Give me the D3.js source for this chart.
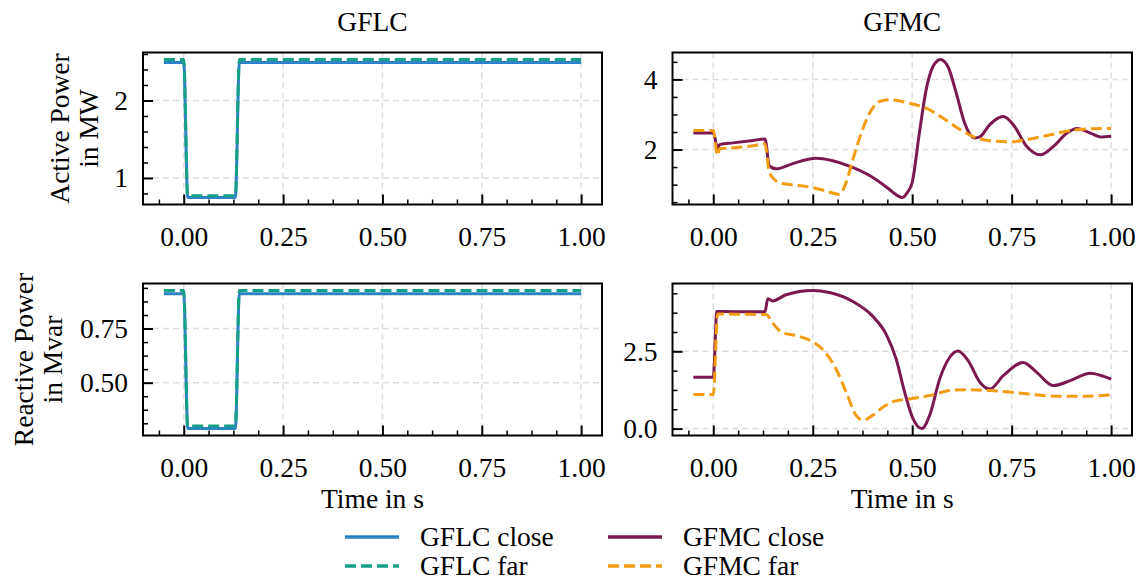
<!DOCTYPE html>
<html>
<head>
<meta charset="utf-8">
<script src="https://cdn.jsdelivr.net/npm/d3@7"></script>
<style>
  body { margin: 0; background: #fff; }
</style>
</head>
<body>
<div id="graph"></div>
<script>
// Time axis ticks (shared by all panels)
let timeTicks = [0, 0.25, 0.5, 0.75, 1.0];
let timeTickLabels = ["0.00", "0.25", "0.50", "0.75", "1.00"];

// GFLC (step response, same sampling for both series)
let gflcTime = [-0.05, 0, 0.01, 0.13, 0.14, 1.0];
let gflcActiveClose = [2.49, 2.49, 0.747, 0.747, 2.49, 2.49];
let gflcActiveFar = [2.53, 2.53, 0.77, 0.77, 2.53, 2.53];
let gflcReactiveClose = [0.911, 0.911, 0.288, 0.288, 0.911, 0.911];
let gflcReactiveFar = [0.926, 0.926, 0.300, 0.300, 0.926, 0.926];

// GFMC active power
let gfmcActiveCloseTime = [-0.05, 0, 0.011, 0.016, 0.05, 0.1, 0.13, 0.141, 0.158, 0.2, 0.258, 0.3, 0.342, 0.393, 0.443, 0.456, 0.475, 0.488, 0.5, 0.518, 0.535, 0.552, 0.571, 0.59, 0.611, 0.632, 0.657, 0.67, 0.695, 0.729, 0.754, 0.788, 0.822, 0.855, 0.889, 0.914, 0.948, 0.973, 1.0];
let gfmcActiveClose = [2.47, 2.47, 2.05, 2.14, 2.19, 2.26, 2.30, 1.53, 1.45, 1.60, 1.75, 1.68, 1.53, 1.26, 0.86, 0.74, 0.63, 0.78, 1.06, 2.47, 3.70, 4.36, 4.57, 4.36, 3.60, 2.75, 2.33, 2.36, 2.71, 2.94, 2.71, 2.09, 1.85, 2.09, 2.47, 2.60, 2.47, 2.36, 2.38];
let gfmcActiveFarTime = [-0.05, 0, 0.011, 0.016, 0.06, 0.1, 0.13, 0.141, 0.166, 0.2, 0.225, 0.267, 0.3, 0.317, 0.334, 0.351, 0.372, 0.393, 0.418, 0.443, 0.493, 0.535, 0.577, 0.62, 0.662, 0.695, 0.746, 0.796, 0.847, 0.897, 0.948, 1.0];
let gfmcActiveFar = [2.54, 2.54, 1.83, 2.02, 2.06, 2.11, 2.16, 1.34, 1.06, 0.99, 0.96, 0.87, 0.76, 0.72, 1.06, 1.72, 2.47, 3.04, 3.37, 3.42, 3.32, 3.18, 2.90, 2.57, 2.33, 2.25, 2.22, 2.30, 2.42, 2.54, 2.59, 2.60];

// GFMC reactive power
let gfmcReactiveCloseTime = [-0.05, 0, 0.009, 0.05, 0.13, 0.137, 0.149, 0.183, 0.25, 0.292, 0.351, 0.401, 0.435, 0.46, 0.481, 0.502, 0.524, 0.544, 0.569, 0.594, 0.615, 0.641, 0.67, 0.695, 0.729, 0.779, 0.813, 0.855, 0.897, 0.948, 0.981, 1.0];
let gfmcReactiveClose = [1.66, 1.66, 3.79, 3.78, 3.78, 4.20, 4.13, 4.33, 4.47, 4.40, 4.11, 3.63, 3.04, 2.24, 1.18, 0.32, 0.0, 0.43, 1.60, 2.30, 2.51, 2.19, 1.50, 1.28, 1.71, 2.14, 1.82, 1.39, 1.55, 1.79, 1.69, 1.60];
let gfmcReactiveFarTime = [-0.05, 0, 0.011, 0.05, 0.133, 0.149, 0.174, 0.208, 0.242, 0.275, 0.309, 0.334, 0.359, 0.376, 0.401, 0.426, 0.456, 0.493, 0.544, 0.594, 0.636, 0.695, 0.746, 0.805, 0.864, 0.931, 1.0];
let gfmcReactiveFar = [1.10, 1.10, 3.71, 3.70, 3.69, 3.42, 3.10, 3.01, 2.86, 2.56, 1.92, 1.18, 0.43, 0.27, 0.43, 0.69, 0.89, 0.96, 1.07, 1.23, 1.26, 1.23, 1.18, 1.10, 1.05, 1.05, 1.09];

// Y ticks per panel
let activeLeftTicks = [1, 2];
let activeLeftLabels = ["1", "2"];
let reactiveLeftTicks = [0.5, 0.75];
let reactiveLeftLabels = ["0.50", "0.75"];
let activeRightTicks = [2, 4];
let activeRightLabels = ["2", "4"];
let reactiveRightTicks = [0, 2.5];
let reactiveRightLabels = ["0.0", "2.5"];

// Titles, labels, legend
let columnTitles = ["GFLC", "GFMC"];
let rowLabels = [["Active Power", "in MW"], ["Reactive Power", "in Mvar"]];
let xLabel = "Time in s";
let seriesNames = ["GFLC close", "GFLC far", "GFMC close", "GFMC far"];
let seriesColors = ["#2b83c5", "#16a085", "#7b1850", "#f39c12"];

// Layout
let width = 1142;
let height = 582;
let cols = [{ x: 143, w: 459 }, { x: 672.5, w: 459.5 }];
let rows = [{ y: 52.5, h: 152 }, { y: 283.5, h: 152 }];
let rowLabelX = [[69, 98], [33, 62]];
let font = "'Liberation Serif', 'Times New Roman', serif";
let fontSize = "27.5px";
let dashPattern = "11,5";

let svg = d3.select("#graph")
    .append("svg")
    .attr("width", width)
    .attr("height", height);

function styleText(sel) {
    return sel.style("font-family", font).style("font-size", fontSize).style("fill", "#000");
}

function pairs(xs, ys) {
    return xs.map((x, i) => [x, ys[i]]);
}

function padded(values) {
    let lo = d3.min(values), hi = d3.max(values);
    let pad = (hi - lo) * 0.05;
    return [lo - pad, hi + pad];
}

function minorRange(domain, step) {
    let out = [];
    let start = Math.ceil(domain[0] / step - 1e-9);
    let end = Math.floor(domain[1] / step + 1e-9);
    for (let i = start; i <= end; i++) out.push(+(i * step).toFixed(6));
    return out;
}

function drawPanel(col, row, series, yTicks, yLabels, yMinor) {
    let c = cols[col], r = rows[row];
    let g = svg.append("g").attr("transform", "translate(" + c.x + "," + r.y + ")");

    let allX = [].concat(...series.map(s => s.data.map(d => d[0])));
    let allY = [].concat(...series.map(s => s.data.map(d => d[1])));

    let xScale = d3.scaleLinear().domain(padded(allX)).range([0, c.w]);
    let yScale = d3.scaleLinear().domain(padded(allY)).range([r.h, 0]);

    // Grid
    g.append("g").selectAll("line").data(timeTicks).join("line")
        .attr("x1", d => xScale(d)).attr("x2", d => xScale(d))
        .attr("y1", 0).attr("y2", r.h)
        .attr("stroke", "#dedede").attr("stroke-width", 1.5).attr("stroke-dasharray", "6,4");
    g.append("g").selectAll("line").data(yTicks).join("line")
        .attr("y1", d => yScale(d)).attr("y2", d => yScale(d))
        .attr("x1", 0).attr("x2", c.w)
        .attr("stroke", "#dedede").attr("stroke-width", 1.5).attr("stroke-dasharray", "6,4");

    // Lines
    let line = d3.line()
        .x(d => xScale(d[0]))
        .y(d => yScale(d[1]))
        .curve(d3.curveMonotoneX);

    series.forEach(s => {
        g.append("path")
            .datum(s.data)
            .attr("fill", "none")
            .attr("stroke", s.color)
            .attr("stroke-width", 3)
            .attr("stroke-dasharray", s.dashed ? dashPattern : null)
            .attr("d", line);
    });

    // Minor ticks
    let xMinor = minorRange(xScale.domain(), 0.0625).filter(v => !timeTicks.includes(v));
    g.append("g")
        .attr("transform", "translate(0," + r.h + ")")
        .call(d3.axisBottom(xScale).tickValues(xMinor).tickSizeInner(-5).tickSizeOuter(0).tickFormat(""))
        .call(a => a.select(".domain").remove())
        .selectAll("line").attr("stroke-width", 1.5);
    let yMinorVals = minorRange(yScale.domain(), yMinor).filter(v => !yTicks.some(t => Math.abs(t - v) < 1e-6));
    g.append("g")
        .call(d3.axisLeft(yScale).tickValues(yMinorVals).tickSizeInner(-5).tickSizeOuter(0).tickFormat(""))
        .call(a => a.select(".domain").remove())
        .selectAll("line").attr("stroke-width", 1.5);

    // Major ticks
    let xAxis = g.append("g")
        .attr("class", "x-axis")
        .attr("transform", "translate(0," + r.h + ")")
        .call(d3.axisBottom(xScale).tickValues(timeTicks).tickSizeInner(-10).tickSizeOuter(0).tickPadding(22)
            .tickFormat((d, i) => timeTickLabels[i]));
    xAxis.select(".domain").remove();
    xAxis.selectAll("line").attr("stroke-width", 2);
    styleText(xAxis.selectAll("text"));

    let yAxis = g.append("g")
        .attr("class", "y-axis")
        .call(d3.axisLeft(yScale).tickValues(yTicks).tickSizeInner(-10).tickSizeOuter(0).tickPadding(15)
            .tickFormat((d, i) => yLabels[i]));
    yAxis.select(".domain").remove();
    yAxis.selectAll("line").attr("stroke-width", 2);
    styleText(yAxis.selectAll("text"));

    // Frame
    g.append("rect")
        .attr("width", c.w).attr("height", r.h)
        .attr("fill", "none").attr("stroke", "#000").attr("stroke-width", 2);
}

// Top-left: GFLC active power
drawPanel(0, 0, [
    { data: pairs(gflcTime, gflcActiveClose), color: seriesColors[0], dashed: false },
    { data: pairs(gflcTime, gflcActiveFar), color: seriesColors[1], dashed: true }
], activeLeftTicks, activeLeftLabels, 0.2);

// Top-right: GFMC active power
drawPanel(1, 0, [
    { data: pairs(gfmcActiveCloseTime, gfmcActiveClose), color: seriesColors[2], dashed: false },
    { data: pairs(gfmcActiveFarTime, gfmcActiveFar), color: seriesColors[3], dashed: true }
], activeRightTicks, activeRightLabels, 0.5);

// Bottom-left: GFLC reactive power
drawPanel(0, 1, [
    { data: pairs(gflcTime, gflcReactiveClose), color: seriesColors[0], dashed: false },
    { data: pairs(gflcTime, gflcReactiveFar), color: seriesColors[1], dashed: true }
], reactiveLeftTicks, reactiveLeftLabels, 0.0625);

// Bottom-right: GFMC reactive power
drawPanel(1, 1, [
    { data: pairs(gfmcReactiveCloseTime, gfmcReactiveClose), color: seriesColors[2], dashed: false },
    { data: pairs(gfmcReactiveFarTime, gfmcReactiveFar), color: seriesColors[3], dashed: true }
], reactiveRightTicks, reactiveRightLabels, 0.625);

// Column titles
columnTitles.forEach((t, i) => {
    styleText(svg.append("text")
        .attr("x", cols[i].x + cols[i].w / 2)
        .attr("y", 31)
        .attr("text-anchor", "middle")
        .text(t));
});

// Row labels (two lines, rotated)
rowLabels.forEach((lines, i) => {
    let cy = rows[i].y + rows[i].h / 2;
    lines.forEach((txt, j) => {
        styleText(svg.append("text")
            .attr("transform", "translate(" + rowLabelX[i][j] + "," + cy + ") rotate(-90)")
            .attr("text-anchor", "middle")
            .text(txt));
    });
});

// X axis labels
cols.forEach(c => {
    styleText(svg.append("text")
        .attr("x", c.x + c.w / 2)
        .attr("y", 508)
        .attr("text-anchor", "middle")
        .text(xLabel));
});

// Legend
let legendX = [345, 608];
let legendY = [537, 566];
seriesNames.forEach((name, i) => {
    let lx = legendX[Math.floor(i / 2)];
    let ly = legendY[i % 2];
    svg.append("line")
        .attr("x1", lx).attr("x2", lx + 54)
        .attr("y1", ly).attr("y2", ly)
        .attr("stroke", seriesColors[i])
        .attr("stroke-width", 3.5)
        .attr("stroke-dasharray", i % 2 === 1 ? dashPattern : null);
    styleText(svg.append("text")
        .attr("x", lx + 75)
        .attr("y", ly + 9)
        .text(name));
});
</script>
</body>
</html>
